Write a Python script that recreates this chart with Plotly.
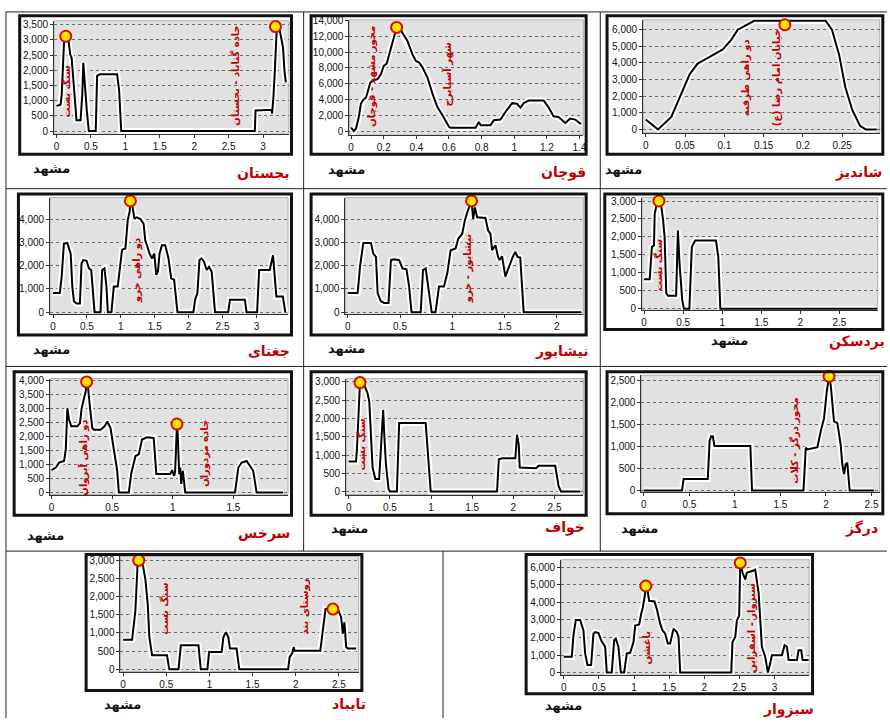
import plotly.graph_objects as go

W, H = 890, 722

# ---------------- DATA ----------------
# 1  بجستان
bajestan_x = [0, 0.06, 0.077, 0.09, 0.11, 0.135, 0.17, 0.2, 0.22, 0.265, 0.29, 0.35, 0.375, 0.39, 0.41, 0.44, 0.47,
              0.57, 0.59, 0.63, 0.88, 0.91, 0.94, 2.88, 2.89, 3.12, 3.13, 3.15, 3.17, 3.19, 3.2, 3.24, 3.29, 3.31, 3.33]
bajestan_y = [830, 866, 1220, 1980, 2960, 3120, 3065, 2520, 2415, 1115, 360, 360, 1220, 2250, 1550, 680, 0,
              0, 1820, 1870, 1870, 1330, 0, 0, 680, 700, 575, 1115, 1980, 3280, 3440, 3335, 2740, 1980, 1600]
bajestan_peak_x = [0.135, 3.18]
bajestan_peak_y = [3120, 3440]

# 2  قوچان
quchan_x = [0, 0.016, 0.03, 0.047, 0.06, 0.071, 0.092, 0.108, 0.118, 0.142, 0.163, 0.183, 0.2, 0.218, 0.234, 0.254,
            0.275, 0.295, 0.315, 0.346, 0.376, 0.397, 0.417, 0.438, 0.468, 0.499, 0.529, 0.56, 0.58, 0.6, 0.61,
            0.763, 0.783, 0.794, 0.855, 0.875, 0.916, 0.946, 0.987, 1.017, 1.038, 1.058, 1.089, 1.18, 1.21, 1.241,
            1.272, 1.313, 1.343, 1.374, 1.404, 1.41]
quchan_y = [460, 0, 330, 1790, 3460, 3875, 4290, 5540, 6170, 6460, 6580, 7210, 8250, 8540, 9710, 11375,
            12830, 13250, 12420, 11375, 9710, 8875, 8670, 8040, 6790, 4710, 3040, 2000, 1170, 540, 420,
            420, 1170, 750, 750, 1375, 1460, 2420, 3540, 3460, 2960, 3540, 3875, 3875, 3040, 1875,
            1790, 1040, 1580, 1460, 960, 960]
quchan_peak_x = [0.279]
quchan_peak_y = [13125]

# 3  شاندیز
shandiz_x = [0, 0.0156, 0.0325, 0.045, 0.056, 0.066, 0.075, 0.087, 0.098, 0.109, 0.117, 0.13, 0.138, 0.229,
             0.237, 0.246, 0.254, 0.263, 0.273, 0.28, 0.294]
shandiz_y = [594, 0, 752, 2140, 3330, 3960, 4220, 4515, 4810, 5405, 6000, 6300, 6535, 6535,
             6000, 4515, 2535, 1150, 200, 0, 0]
shandiz_peak_x = [0.177]
shandiz_peak_y = [6300]

# 4  جغتای
joghatai_x = [0, 0.1, 0.127, 0.16, 0.21, 0.26, 0.284, 0.308, 0.347, 0.396, 0.42, 0.445, 0.494, 0.529, 0.563, 0.587,
              0.612, 0.7, 0.724, 0.758, 0.788, 0.808, 0.861, 0.896, 0.954, 0.994, 1.018, 1.067, 1.101, 1.13, 1.14,
              1.175, 1.2, 1.23, 1.287, 1.336, 1.36, 1.385, 1.424, 1.459, 1.493, 1.522, 1.547, 1.571, 1.605, 1.655,
              1.703, 1.742, 1.786, 1.835, 2.07, 2.095, 2.129, 2.16, 2.19, 2.227, 2.266, 2.3, 2.34, 2.389, 2.584,
              2.61, 2.829, 2.854, 3.01, 3.04, 3.196, 3.245, 3.27, 3.294, 3.39, 3.426]
joghatai_y = [825, 825, 1537, 2960, 2990, 2530, 1110, 470, 370, 370, 2100, 2250, 2220, 1890, 1820, 825,
              0, 0, 1820, 1890, 1110, 0, 0, 1110, 1110, 2100, 2700, 2750, 3955, 4350, 4810,
              4525, 4030, 4100, 4030, 3815, 3100, 2890, 2530, 2320, 2530, 1610, 1750, 2530, 2890, 2890,
              2320, 1465, 1395, 0, 0, 540, 825, 2250, 2320, 2180, 1820, 1960, 1750, 0, 0,
              540, 540, 0, 0, 1820, 1820, 2460, 1537, 680, 680, 0]
joghatai_peak_x = [1.14]
joghatai_peak_y = [4810]

# 5  نیشابور
neyshabur_x = [0, 0.095, 0.117, 0.149, 0.222, 0.244, 0.27, 0.286, 0.317, 0.349, 0.39, 0.413, 0.444, 0.492, 0.524,
               0.562, 0.587, 0.61, 0.698, 0.72, 0.746, 0.768, 0.803, 0.84, 0.873, 0.92, 0.952, 0.984, 1.032,
               1.057, 1.095, 1.12, 1.143, 1.184, 1.19, 1.2, 1.216, 1.238, 1.317, 1.343, 1.365, 1.381, 1.413,
               1.438, 1.454, 1.476, 1.508, 1.54, 1.578, 1.603, 1.625, 1.65, 1.683, 2.232]
neyshabur_y = [825, 825, 1960, 2990, 2990, 2530, 2390, 825, 470, 400, 400, 2250, 2280, 2250, 1890,
               1850, 1110, 0, 0, 1820, 1890, 1110, 0, 0, 1110, 1110, 1680, 2675, 2750,
               3170, 3390, 3955, 4310, 4810, 4450, 4030, 4525, 4100, 4070, 3530, 3390, 2675, 2890,
               2390, 2250, 2420, 1537, 1960, 2390, 2600, 2390, 2360, 0, 0]
neyshabur_peak_x = [1.184]
neyshabur_peak_y = [4810]

# 6  بردسکن
bardaskan_x = [0, 0.072, 0.1, 0.127, 0.136, 0.157, 0.19, 0.22, 0.242, 0.263, 0.284, 0.306, 0.41, 0.433, 0.454,
               0.488, 0.51, 0.58, 0.611, 0.654, 0.92, 0.95, 0.976, 2.98]
bardaskan_y = [823, 823, 1720, 1765, 2634, 2863, 3000, 2863, 2497, 1994, 439, 366, 366, 2177, 1262,
               256, 0, 0, 1720, 1902, 1902, 1445, 0, 0]
bardaskan_peak_x = [0.19]
bardaskan_peak_y = [3000]

# 7  سرخس
sarakhs_x = [0, 0.036, 0.063, 0.104, 0.118, 0.131, 0.145, 0.164, 0.214, 0.235, 0.249, 0.268, 0.282, 0.29, 0.3,
             0.318, 0.337, 0.35, 0.405, 0.438, 0.46, 0.487, 0.515, 0.542, 0.556, 0.638, 0.657, 0.679, 0.693,
             0.72, 0.747, 0.788, 0.843, 0.865, 0.98, 0.994, 1.013, 1.02, 1.035, 1.04, 1.054, 1.062, 1.07, 1.084,
             1.103, 1.514, 1.541, 1.569, 1.61, 1.637, 1.664, 1.692, 1.91]
sarakhs_y = [802, 897, 1074, 1133, 1546, 3021, 2608, 2372, 2372, 2490, 3021, 3375, 3611, 3965, 3847,
             3021, 2313, 2254, 2254, 2372, 2549, 2313, 1605, 779, 0, 0, 661, 1015, 1310,
             1369, 1900, 1982, 1959, 661, 661, 802, 602, 779, 2455, 2195, 661, 897, 307, 779,
             0, 0, 897, 1074, 1133, 956, 779, 0, 0]
sarakhs_peak_x = [0.29, 1.035]
sarakhs_peak_y = [3965, 2455]

# 8  خواف
khaf_x = [0, 0.089, 0.1, 0.12, 0.137, 0.19, 0.23, 0.25, 0.27, 0.29, 0.323, 0.37, 0.403, 0.419, 0.43, 0.452,
          0.484, 0.5, 0.585, 0.613, 0.935, 0.976, 0.996, 1.802, 1.823, 1.863, 2.024, 2.044, 2.065, 2.077,
          2.274, 2.306, 2.508, 2.548, 2.577, 2.81]
khaf_y = [820, 820, 1153, 2100, 2982, 2910, 2685, 2460, 1650, 658, 342, 342, 1650, 2234, 1650, 748,
          72, 0, 0, 1874, 1874, 748, 0, 0, 883, 910, 910, 1558, 1288, 658,
          640, 703, 703, 162, 0, 0]
khaf_peak_x = [0.137]
khaf_peak_y = [2982]

# 9  درگز
dargaz_x = [0, 0.42, 0.437, 0.703, 0.722, 0.74, 0.758, 0.776, 1.17, 1.188, 1.753, 1.778, 1.797, 1.906, 1.942,
            1.979, 2.008, 2.034, 2.052, 2.088, 2.125, 2.161, 2.179, 2.198, 2.216, 2.234, 2.26, 2.526]
dargaz_y = [0, 0, 263, 263, 1126, 1239, 1239, 1014, 1014, 0, 0, 976, 938, 991, 1351,
            1652, 2252, 2605, 2402, 1577, 1539, 1051, 600, 375, 600, 638, 0, 0]
dargaz_peak_x = [2.034]
dargaz_peak_y = [2605]

# 10  تایباد
taybad_x = [0, 0.104, 0.142, 0.169, 0.181, 0.219, 0.258, 0.285, 0.304, 0.335, 0.508, 0.535, 0.642, 0.669, 0.873,
            0.9, 0.977, 0.996, 1.142, 1.162, 1.192, 1.219, 1.238, 1.315, 1.346, 1.912, 1.93, 1.958, 1.977,
            1.988, 2.285, 2.315, 2.346, 2.431, 2.488, 2.527, 2.546, 2.565, 2.585, 2.604, 2.7]
taybad_y = [815, 815, 1613, 2973, 3000, 2990, 2474, 1794, 888, 390, 390, 0, 0, 662, 662,
            0, 0, 480, 480, 888, 1024, 888, 571, 571, 0, 0, 344, 435, 616,
            508, 508, 1160, 1658, 1658, 1658, 1432, 979, 1296, 616, 571, 571]
taybad_peak_x = [0.181, 2.431]
taybad_peak_y = [3000, 1658]

# 11  سبزوار
sabzevar_x = [0, 0.114, 0.138, 0.171, 0.233, 0.28, 0.304, 0.337, 0.389, 0.422, 0.446, 0.494, 0.532, 0.589, 0.612,
              0.683, 0.717, 0.74, 0.778, 0.812, 0.859, 0.897, 0.944, 0.992, 1.016, 1.073, 1.101, 1.125, 1.149,
              1.168, 1.196, 1.215, 1.291, 1.324, 1.372, 1.405, 1.443, 1.481, 1.514, 1.561, 1.609, 1.633, 1.656,
              2.383, 2.401, 2.44, 2.463, 2.496, 2.511, 2.525, 2.544, 2.582, 2.605, 2.7, 2.724, 2.772, 2.795,
              2.819, 2.866, 2.904, 2.938, 2.962, 3.104, 3.142, 3.175, 3.199, 3.318, 3.341, 3.379, 3.398, 3.484]
sabzevar_y = [900, 900, 2119, 3000, 3000, 2400, 1088, 431, 431, 2213, 2306, 2250, 1838, 1463, 0,
              0, 1838, 1931, 1463, 0, 0, 1088, 1125, 1744, 2681, 2738, 3338, 3713, 4275,
              4931, 4556, 4088, 4050, 3619, 2775, 2400, 2213, 1650, 1650, 2494, 2306, 2025, 0,
              0, 1744, 2025, 2963, 3244, 6244, 5963, 5681, 5306, 5681, 5813, 5869, 4556, 3150,
              1463, 900, 0, 525, 994, 994, 1556, 1463, 713, 713, 1275, 1275, 713, 713]
sabzevar_peak_x = [1.168, 2.511]
sabzevar_peak_y = [4931, 6244]

origin_label = "مشهد"
city_labels = ["بجستان", "قوچان", "شاندیز", "جغتای", "نیشابور", "بردسکن", "سرخس", "خواف", "درگز", "تایباد", "سبزوار"]

# place names written along the profiles: (panel, x, y, text)
place_names = [
    (0, 0.15, 1300, "سنگ بست"),
    (0, 2.59, 1820, "جاده گناباد - بجستان"),
    (1, 0.128, 7000, "محور مشهد - قوچان"),
    (1, 0.59, 7200, "شهر آسیابرج"),
    (2, 0.1275, 3130, "دو راهی طرقبه"),
    (2, 0.167, 3130, "خیابان امام رضا (ع)"),
    (3, 1.238, 1820, "دو راهی خرو"),
    (4, 1.159, 1890, "نیشابور - خرو"),
    (5, 0.178, 1216, "سنگ بست"),
    (6, 0.268, 1250, "دو راهی آبروان"),
    (6, 1.267, 1390, "جاده مزدوران"),
    (7, 0.15, 1288, "سنگ بست"),
    (8, 1.65, 1141, "محور درگز - کلات"),
    (9, 0.469, 1659, "سنگ بست"),
    (9, 2.104, 1722, "روستای بند"),
    (10, 1.182, 1425, "باغشن"),
    (10, 2.677, 2550, "سبزوار - اسفراین"),
]

series = [
    (bajestan_x, bajestan_y, bajestan_peak_x, bajestan_peak_y),
    (quchan_x, quchan_y, quchan_peak_x, quchan_peak_y),
    (shandiz_x, shandiz_y, shandiz_peak_x, shandiz_peak_y),
    (joghatai_x, joghatai_y, joghatai_peak_x, joghatai_peak_y),
    (neyshabur_x, neyshabur_y, neyshabur_peak_x, neyshabur_peak_y),
    (bardaskan_x, bardaskan_y, bardaskan_peak_x, bardaskan_peak_y),
    (sarakhs_x, sarakhs_y, sarakhs_peak_x, sarakhs_peak_y),
    (khaf_x, khaf_y, khaf_peak_x, khaf_peak_y),
    (dargaz_x, dargaz_y, dargaz_peak_x, dargaz_peak_y),
    (taybad_x, taybad_y, taybad_peak_x, taybad_peak_y),
    (sabzevar_x, sabzevar_y, sabzevar_peak_x, sabzevar_peak_y),
]

# ---------------- LAYOUT (pixels) ----------------
# plot area (gx0, gx1, gy0, gy1), x range, y range, x dtick, y dtick, frame box, origin label pos, city label pos
panels = [
    dict(g=(53.3, 289.3, 16, 130.7), xr=[-0.035, 3.376], yr=[-98, 3630], dx=0.5, dy=500,
         f=(17.3, 293.3, 9.3, 152.7), o=(50.7, 165.7), c=(292, 170)),
    dict(g=(350, 585, 15, 131.7), xr=[-0.0104, 1.424], yr=[-500, 14090], dx=0.2, dy=2000,
         f=(310, 589.3, 9.3, 152.7), o=(347.5, 166.7), c=(590, 170)),
    dict(g=(645, 882.7, 15, 129.3), xr=[-0.0034, 0.2978], yr=[-196, 6595], dx=0.05, dy=1000,
         f=(607.3, 887.3, 9.3, 152.7), o=(625.5, 166.7), c=(886.7, 170)),
    dict(g=(49.3, 288.3, 195, 313.3), xr=[-0.044, 3.466], yr=[-98, 4953], dx=0.5, dy=1000,
         f=(16, 293.3, 190, 335.7), o=(50.8, 349), c=(292, 350)),
    dict(g=(346, 585, 195, 313.3), xr=[-0.022, 2.254], yr=[-98, 4953], dx=0.5, dy=1000,
         f=(310, 589.3, 190, 335.7), o=(346.7, 347.7), c=(593, 350.7)),
    dict(g=(644, 880.7, 195, 309), xr=[-0.025, 2.99], yr=[-36, 3096], dx=0.5, dy=500,
         f=(605, 887.3, 190, 330), o=(731.7, 340), c=(890, 341)),
    dict(g=(49.3, 288.3, 378.3, 495.7), xr=[-0.0115, 1.951], yr=[-71, 4085], dx=0.5, dy=500,
         f=(11.7, 293.3, 370, 518.3), o=(45, 536.7), c=(292, 535)),
    dict(g=(346.7, 585, 378.3, 495.7), xr=[-0.031, 2.85], yr=[-81, 3092], dx=0.5, dy=500,
         f=(310, 589.3, 370, 518.3), o=(350, 530), c=(588.3, 529.3)),
    dict(g=(643.3, 882.7, 375, 493.3), xr=[-0.026, 2.59], yr=[-36, 2628], dx=0.5, dy=500,
         f=(607.3, 887.3, 370, 516.7), o=(641.7, 530), c=(883.3, 530)),
    dict(g=(120, 359.3, 558.3, 675), xr=[-0.031, 2.73], yr=[-62, 3109], dx=0.5, dy=500,
         f=(84, 364, 555, 695.7), o=(121.7, 708), c=(368.3, 708.3)),
    dict(g=(562.7, 811.7, 561.7, 678.3), xr=[-0.037, 3.49], yr=[-129, 6428], dx=0.5, dy=1000,
         f=(526, 816.7, 555, 699), o=(565, 709), c=(818.3, 713.3)),
]

# table grid lines (pixels)
hlines = [(5, 890, 7), (5, 890, 186), (5, 890, 366), (5, 890, 553)]
vlines = [(5, 7, 722), (304, 7, 553), (602, 7, 553), (444, 553, 722)]


def px(x):
    return x / W


def py(y):
    return 1 - y / H


fig = go.Figure()
layout = {}
shapes = []
annotations = []

TICKFONT = dict(family="Liberation Sans, Arial", size=10, color="#111")
FA_FONT = "DejaVu Sans"

for i, (p, (xs, ys, pkx, pky)) in enumerate(zip(panels, series)):
    n = i + 1
    xa = "xaxis" if n == 1 else f"xaxis{n}"
    ya = "yaxis" if n == 1 else f"yaxis{n}"
    xr_ = "x" if n == 1 else f"x{n}"
    yr_ = "y" if n == 1 else f"y{n}"
    gx0, gx1, gy0, gy1 = p["g"]
    layout[xa] = dict(domain=[px(gx0), px(gx1)], range=p["xr"], anchor=yr_, tick0=0, dtick=p["dx"],
                      showgrid=False, zeroline=False, showline=True, linecolor="#333", linewidth=1,
                      ticks="outside", ticklen=3, tickcolor="#333", tickfont=TICKFONT, fixedrange=True)
    layout[ya] = dict(domain=[py(gy1), py(gy0)], range=p["yr"], anchor=xr_, tick0=0, dtick=p["dy"],
                      showgrid=True, gridcolor="#6a6a6a", griddash="dot", gridwidth=1,
                      zeroline=False, showline=True, linecolor="#333", linewidth=1, tickformat=",d",
                      ticks="outside", ticklen=3, tickcolor="#333", tickfont=TICKFONT, fixedrange=True)
    # halo + profile line
    fig.add_trace(go.Scatter(x=xs, y=ys, xaxis=xr_, yaxis=yr_, mode="lines",
                             line=dict(color="white", width=6), hoverinfo="skip", showlegend=False))
    fig.add_trace(go.Scatter(x=xs, y=ys, xaxis=xr_, yaxis=yr_, mode="lines",
                             line=dict(color="black", width=2), showlegend=False))
    fig.add_trace(go.Scatter(x=pkx, y=pky, xaxis=xr_, yaxis=yr_, mode="markers",
                             marker=dict(size=11, color="#ffe400", line=dict(color="#d01000", width=2)),
                             showlegend=False, cliponaxis=False))
    # plot-area border
    shapes.append(dict(type="rect", xref="paper", yref="paper", x0=px(gx0), x1=px(gx1), y0=py(gy1), y1=py(gy0),
                       line=dict(color="#b0b0b0", width=1), layer="below"))
    # chart frame
    fx0, fx1, fy0, fy1 = p["f"]
    shapes.append(dict(type="rect", xref="paper", yref="paper", x0=px(fx0 + 1.5), x1=px(fx1 - 1.5),
                       y0=py(fy1 - 1.5), y1=py(fy0 + 1.5), line=dict(color="#111", width=3)))
    # labels
    annotations.append(dict(text=f"<b>{origin_label}</b>", x=px(p["o"][0]), y=py(p["o"][1]), xref="paper",
                            yref="paper", xanchor="center", yanchor="middle", showarrow=False,
                            font=dict(family=FA_FONT, size=13, color="#111")))
    annotations.append(dict(text=f"<b>{city_labels[i]}</b>", x=px(p["c"][0]), y=py(p["c"][1]), xref="paper",
                            yref="paper", xanchor="right", yanchor="middle", showarrow=False,
                            font=dict(family=FA_FONT, size=14, color="#c00000")))

for (k, x, y, t) in place_names:
    n = k + 1
    annotations.append(dict(text=f"<b>{t}</b>", x=x, y=y, xref="x" if n == 1 else f"x{n}",
                            yref="y" if n == 1 else f"y{n}", textangle=-90, showarrow=False,
                            font=dict(family=FA_FONT, size=10, color="#c00000")))

for (x0, x1, y) in hlines:
    shapes.append(dict(type="line", xref="paper", yref="paper", x0=px(x0), x1=px(x1), y0=py(y), y1=py(y),
                       line=dict(color="#222", width=1)))
for (x, y0, y1) in vlines:
    shapes.append(dict(type="line", xref="paper", yref="paper", x0=px(x), x1=px(x), y0=py(y0), y1=py(y1),
                       line=dict(color="#222", width=1)))

fig.update_layout(width=W, height=H, margin=dict(l=0, r=0, t=0, b=0), paper_bgcolor="white",
                  plot_bgcolor="#e1e1e1", showlegend=False, shapes=shapes, annotations=annotations, **layout)

fig.write_html("out.html", config={"displayModeBar": False},
               post_script="document.body.style.margin='0';")
